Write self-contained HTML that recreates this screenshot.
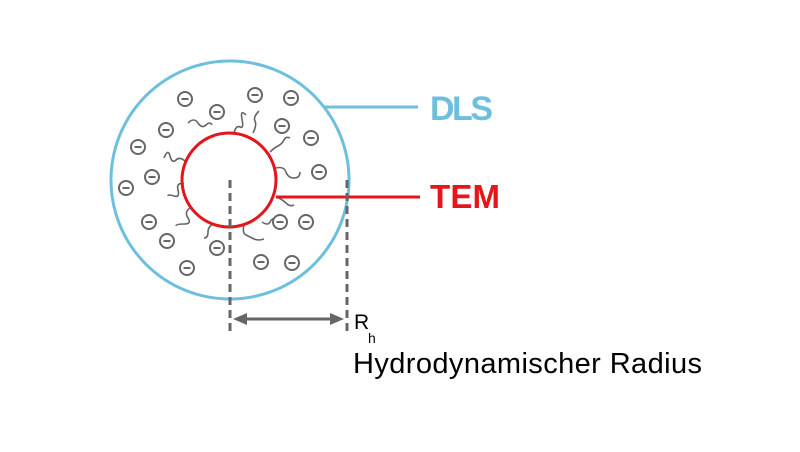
<!DOCTYPE html>
<html><head><meta charset="utf-8"><style>
html,body{margin:0;padding:0;background:#fff;}
svg{display:block;}
</style></head><body>
<svg width="800" height="452" viewBox="0 0 800 452" xmlns="http://www.w3.org/2000/svg">
<defs>
<g id="ion"><circle r="7" fill="#fff" stroke="#666" stroke-width="2"/><line x1="-3.5" y1="0" x2="3.5" y2="0" stroke="#666" stroke-width="2"/></g>
</defs>
<circle cx="230" cy="180" r="119" fill="none" stroke="#6dbfdd" stroke-width="3"/>
<line x1="324" y1="107" x2="418" y2="107" stroke="#6dbfdd" stroke-width="3"/>
<text x="430" y="120" font-family="Liberation Sans, sans-serif" font-weight="bold" font-size="34" fill="#6dbfdd" textLength="63">DLS</text>
<g fill="none" stroke="#666" stroke-width="1.6">
<path d="M188,123 q6,-6 10,0 t8,2 t6,0"/>
<path d="M234,133 q2,-8 6,-6 t2,-8 t4,-4"/>
<path d="M253,133 q4,-8 2,-12 t4,-10"/>
<path d="M270,152 q4,-4 8,-6 t6,-6 t6,-2"/>
<path d="M276,168 q8,-2 10,4 t8,6 t6,-6"/>
<path d="M276,197 q6,2 10,6 t8,2"/>
<path d="M262,222 q6,4 8,0 t6,-4"/>
<path d="M244,225 q-2,8 2,10 t8,4 t10,0"/>
<path d="M214,224 q-6,2 -6,8 t-4,6"/>
<path d="M190,208 q-6,4 -2,10 t-4,6 t-8,2"/>
<path d="M184,184 q-8,-2 -6,6 t-4,6 t-6,0"/>
<path d="M186,162 q-6,-6 -10,-2 t-6,-4 t-6,2"/>
</g>
<circle cx="229" cy="180" r="47" fill="none" stroke="#e3161b" stroke-width="3"/>
<line x1="276" y1="197" x2="420" y2="197" stroke="#e3161b" stroke-width="3"/>
<text x="430" y="208" font-family="Liberation Sans, sans-serif" font-weight="bold" font-size="33" fill="#e3161b" textLength="70">TEM</text>
<use href="#ion" x="185" y="99"/><use href="#ion" x="255" y="95"/><use href="#ion" x="291" y="98"/>
<use href="#ion" x="217" y="112"/><use href="#ion" x="166" y="130"/><use href="#ion" x="282" y="126"/>
<use href="#ion" x="311" y="138"/><use href="#ion" x="138" y="147"/><use href="#ion" x="152" y="177"/>
<use href="#ion" x="319" y="172"/><use href="#ion" x="126" y="188"/><use href="#ion" x="149" y="222"/>
<use href="#ion" x="280" y="222"/><use href="#ion" x="306" y="222"/><use href="#ion" x="167" y="241"/>
<use href="#ion" x="217" y="248"/><use href="#ion" x="187" y="268"/><use href="#ion" x="261" y="262"/>
<use href="#ion" x="292" y="263"/>
<g stroke="#666" stroke-width="3" stroke-dasharray="8,5">
<line x1="230" y1="180" x2="230" y2="332"/>
<line x1="347" y1="180" x2="347" y2="332"/>
</g>
<line x1="244" y1="319" x2="333" y2="319" stroke="#666" stroke-width="3"/>
<polygon points="233,319 247,313 247,325" fill="#666"/>
<polygon points="344,319 330,313 330,325" fill="#666"/>
<text x="354" y="329" font-family="Liberation Sans, sans-serif" font-size="21" fill="#000">R</text>
<text x="368" y="343" font-family="Liberation Sans, sans-serif" font-size="14" fill="#000">h</text>
<text x="353" y="373" font-family="Liberation Sans, sans-serif" font-size="29" fill="#000" textLength="349">Hydrodynamischer Radius</text>
</svg>
</body></html>
